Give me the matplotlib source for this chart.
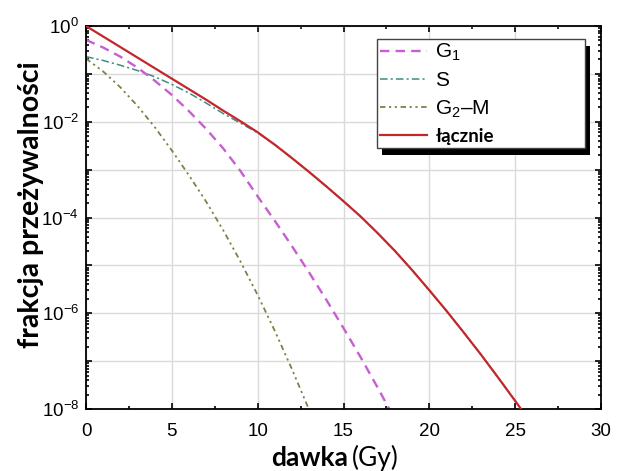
import numpy as np
import matplotlib
matplotlib.use("Agg")
import matplotlib.pyplot as plt
from matplotlib.ticker import MultipleLocator, LogLocator, FuncFormatter, NullFormatter
from matplotlib.patches import Rectangle
from matplotlib.transforms import IdentityTransform
from matplotlib.font_manager import FontProperties

plt.rcParams['font.family'] = ['Liberation Sans', 'DejaVu Sans']
plt.rcParams['mathtext.fontset'] = 'custom'
plt.rcParams['mathtext.rm'] = 'Liberation Sans'
plt.rcParams['mathtext.it'] = 'Liberation Sans'

# === Data (log10 of survival fraction) ===
dose_g1 = [0, 1, 2, 3, 4, 5, 6, 7, 8, 9, 10, 11, 12, 13, 14, 15, 16, 17, 18]
g1_log = [-0.29, -0.45, -0.64, -0.87, -1.14, -1.44, -1.78, -2.15, -2.56, -3.03,
          -3.56, -4.07, -4.60, -5.15, -5.72, -6.31, -6.92, -7.56, -8.22]

dose_s = [0, 1, 2, 3, 4, 5, 6, 7, 8, 9, 10, 11, 12, 13, 14, 15, 16, 17, 18,
          19, 20, 21, 22, 23, 24, 25, 26]
s_log = [-0.64, -0.72, -0.82, -0.93, -1.06, -1.22, -1.40, -1.61, -1.83, -2.03,
         -2.23, -2.48, -2.76, -3.05, -3.35, -3.66, -3.98, -4.33, -4.70,
         -5.10, -5.52, -5.95, -6.40, -6.86, -7.34, -7.83, -8.33]

dose_g2m = [0, 1, 2, 3, 4, 5, 6, 7, 8, 9, 10, 11, 12, 13]
g2m_log = [-0.68, -0.95, -1.28, -1.67, -2.11, -2.60, -3.12, -3.67, -4.27,
           -4.92, -5.62, -6.37, -7.17, -8.02]

dose_tot = [0, 1, 2, 3, 4, 5, 6, 7, 8, 9, 10, 11, 12, 13, 14, 15, 16, 17, 18,
            19, 20, 21, 22, 23, 24, 25, 26]
tot_log = [0.0, -0.22, -0.44, -0.66, -0.88, -1.10, -1.32, -1.54, -1.77, -1.99,
           -2.22, -2.48, -2.76, -3.05, -3.35, -3.66, -3.98, -4.33, -4.70,
           -5.10, -5.52, -5.95, -6.40, -6.86, -7.34, -7.83, -8.33]

fig = plt.figure(figsize=(6.2, 4.71), dpi=100)
ax = fig.add_axes([86 / 620, 1 - 409 / 471, (601 - 86) / 620, (409 - 26) / 471])

ax.plot(dose_s, 10.0 ** np.array(s_log), color='#3f8c82', lw=1.1,
        dashes=(5, 2, 1.4, 2), label='S', zorder=2)
ax.plot(dose_tot, 10.0 ** np.array(tot_log), color='#c4262b', lw=1.6,
        label='łącznie', zorder=3)
ax.plot(dose_g1, 10.0 ** np.array(g1_log), color='#c65fd0', lw=1.7,
        dashes=(4, 2.6), label=r'$\mathregular{G_1}$', zorder=2)
ax.plot(dose_g2m, 10.0 ** np.array(g2m_log), color='#7f8045', lw=1.3,
        dashes=(3, 2, 1.2, 2, 1.2, 2), label=r'$\mathregular{G_2}$–M', zorder=2)

ax.set_yscale('log')
ax.set_xlim(0, 30)
ax.set_ylim(1e-8, 1)

ax.xaxis.set_major_locator(MultipleLocator(5))
ax.xaxis.set_minor_locator(MultipleLocator(2.5))
ax.yaxis.set_major_locator(LogLocator(base=10, numticks=20))
ax.yaxis.set_minor_locator(LogLocator(base=10, subs=np.arange(2, 10), numticks=20))
ax.yaxis.set_minor_formatter(NullFormatter())


def ylab(v, pos):
    e = int(round(np.log10(v)))
    if e % 2:
        return ''
    return r'$\mathregular{10^{%d}}$' % e


ax.yaxis.set_major_formatter(FuncFormatter(ylab))
ax.tick_params(which='both', direction='in', top=True, right=True, width=1.2)
ax.tick_params(which='major', length=4.5, labelsize=13.5)
ax.tick_params(axis='x', which='major', pad=10)
ax.tick_params(axis='y', which='major', pad=5)
ax.tick_params(which='minor', length=2.5)
ax.grid(True, which='major', color='#dadada', lw=1.0)
for s in ax.spines.values():
    s.set_linewidth(1.3)

fig.text(31 / 620, 1 - 205 / 471, 'frakcja przeżywalności', rotation=90,
         ha='center', va='center', fontsize=20.5, fontweight='bold',
         family=['Lato', 'DejaVu Sans'])
fig.text(348 / 620, 1 - 458 / 471, 'dawka', ha='right', va='center',
         fontsize=19, fontweight='bold', family=['Lato', 'DejaVu Sans'])
fig.text(352 / 620, 1 - 458 / 471, '(Gy)', ha='left', va='center',
         fontsize=19, family=['Lato', 'DejaVu Sans'])

# legend order as in the reference
h, lab = ax.get_legend_handles_labels()
order = [2, 0, 3, 1]
leg = ax.legend([h[i] for i in order], [lab[i] for i in order],
                loc='upper left', bbox_to_anchor=(0.565, 0.681, 0.404, 0.285),
                mode='expand', borderaxespad=0, fontsize=15, handlelength=2.25,
                handletextpad=0.4, labelspacing=0.38, borderpad=0.15,
                fancybox=False, framealpha=1, edgecolor='#444444')
leg.get_frame().set_linewidth(1.0)
leg.set_zorder(6)
leg.get_texts()[3].set_fontproperties(
    FontProperties(family='Lato', weight='bold', size=13.5))

# black offset shadow behind the legend box
fig.canvas.draw()
bb = leg.get_frame().get_window_extent()
shadow = Rectangle((bb.x0 + 5, bb.y0 - 7), bb.width, bb.height, facecolor='black',
                   edgecolor='none', transform=IdentityTransform(), zorder=5.5,
                   clip_on=False)
ax.add_patch(shadow)

fig.savefig('out.png', dpi=100)
